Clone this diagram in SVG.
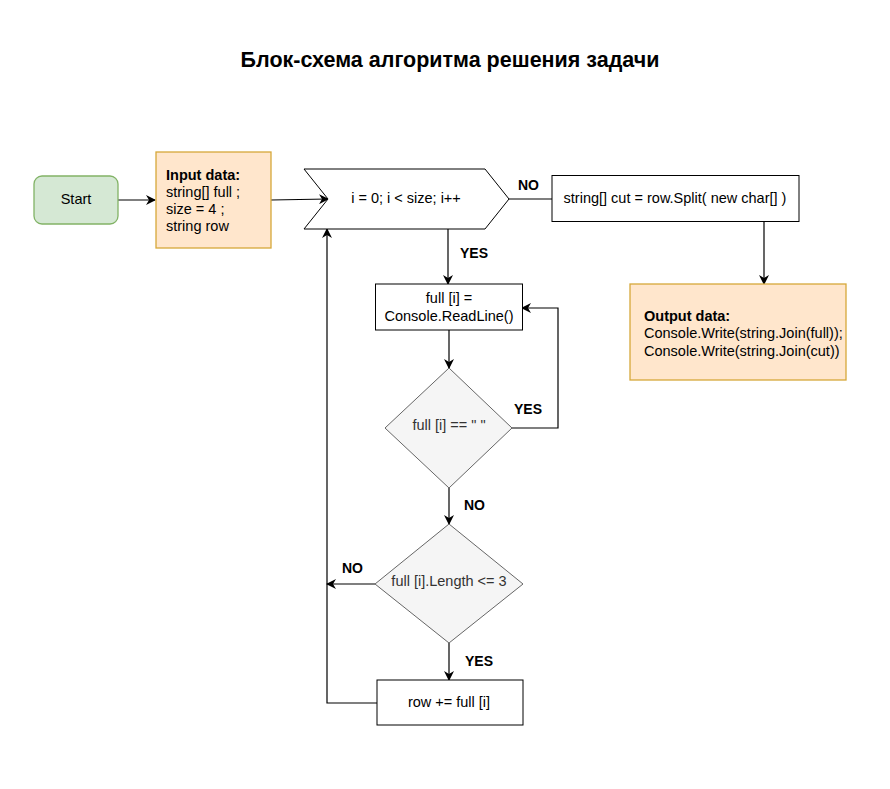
<svg xmlns="http://www.w3.org/2000/svg" width="890" height="789" viewBox="0 0 890 789">
<style>
text{font-family:"Liberation Sans",Arial,sans-serif;font-size:14.5px;fill:#000}
.c{text-anchor:middle;dominant-baseline:central}
.b{font-weight:bold}
.lbl{font-weight:bold;font-size:14px}
.box{fill:#fff;stroke:#000;stroke-width:1}
.data{fill:#ffe6cc;stroke:#d6a83a;stroke-width:1.3}
.dec{fill:#f5f5f5;stroke:#666;stroke-width:1}
.ln{fill:none;stroke:#000;stroke-width:1.2}
.dt{fill:#333}
</style>
<defs>
<marker id="ah" viewBox="0 0 10 10" refX="9" refY="5" markerWidth="10" markerHeight="10" markerUnits="userSpaceOnUse" orient="auto">
<path d="M0,0 L10,5 L0,10 L3,5 Z" fill="#000"/>
</marker>
</defs>
<rect width="890" height="789" fill="#fff"/>
<text class="b" x="450" y="67" text-anchor="middle" style="font-size:21.5px">Блок-схема алгоритма решения задачи</text>

<g id="connectors">
<path class="ln" d="M118,200 L155,200" marker-end="url(#ah)"/>
<path class="ln" d="M271,200 L328,199" marker-end="url(#ah)"/>
<path class="ln" d="M509,199 L552,199"/>
<path class="ln" d="M764,222 L764,284" marker-end="url(#ah)"/>
<path class="ln" d="M448,229 L448,284" marker-end="url(#ah)"/>
<path class="ln" d="M449,330 L449,368" marker-end="url(#ah)"/>
<path class="ln" d="M512,428 L558,428 L558,308 L522,308" marker-end="url(#ah)"/>
<path class="ln" d="M449,488 L449,524" marker-end="url(#ah)"/>
<path class="ln" d="M375,584 L327,584" marker-end="url(#ah)"/>
<path class="ln" d="M449,643 L449,680" marker-end="url(#ah)"/>
<path class="ln" d="M377,703 L327,703 L327,229" marker-end="url(#ah)"/>
<text class="lbl" x="518" y="190">NO</text>
<text class="lbl" x="460" y="258">YES</text>
<text class="lbl" x="514" y="414">YES</text>
<text class="lbl" x="464" y="510">NO</text>
<text class="lbl" x="342" y="573">NO</text>
<text class="lbl" x="465" y="666">YES</text>
</g>

<g id="start">
<rect x="34" y="176" width="84" height="48" rx="8" fill="#d5e8d4" stroke="#82b366" stroke-width="1.3"/>
<text class="c" x="76" y="199">Start</text>
</g>

<g id="input">
<rect class="data" x="156" y="152" width="115" height="96"/>
<text class="b" x="166" y="180">Input data:</text>
<text x="166" y="197">string[] full ;</text>
<text x="166" y="214">size = 4 ;</text>
<text x="166" y="231">string row</text>
</g>

<g id="loop">
<polygon class="box" points="304,169 485,169 509,199 485,229 304,229 328,199"/>
<text class="c" x="406" y="198">i = 0; i &lt; size; i++</text>
</g>

<g id="split">
<rect class="box" x="552" y="175.5" width="247" height="46"/>
<text class="c" x="675" y="198">string[] cut = row.Split( new char[] )</text>
</g>

<g id="output">
<rect class="data" x="630" y="284" width="216" height="96"/>
<text class="b" x="644" y="321">Output data:</text>
<text x="644" y="338">Console.Write(string.Join(full));</text>
<text x="644" y="356">Console.Write(string.Join(cut))</text>
</g>

<g id="readline">
<rect class="box" x="375.5" y="284" width="147" height="46"/>
<text class="c" x="449" y="298">full [i] =</text>
<text class="c" x="449" y="316">Console.ReadLine()</text>
</g>

<g id="check-empty">
<polygon class="dec" points="449,368 512,428 449,488 385,428"/>
<text class="c dt" x="449" y="425">full [i] == " "</text>
</g>

<g id="check-length">
<polygon class="dec" points="449,524 523,584 449,643 375,584"/>
<text class="c dt" x="449" y="581">full [i].Length &lt;= 3</text>
</g>

<g id="append">
<rect class="box" x="377" y="680" width="146" height="45"/>
<text class="c" x="449" y="702">row += full [i]</text>
</g>
</svg>
